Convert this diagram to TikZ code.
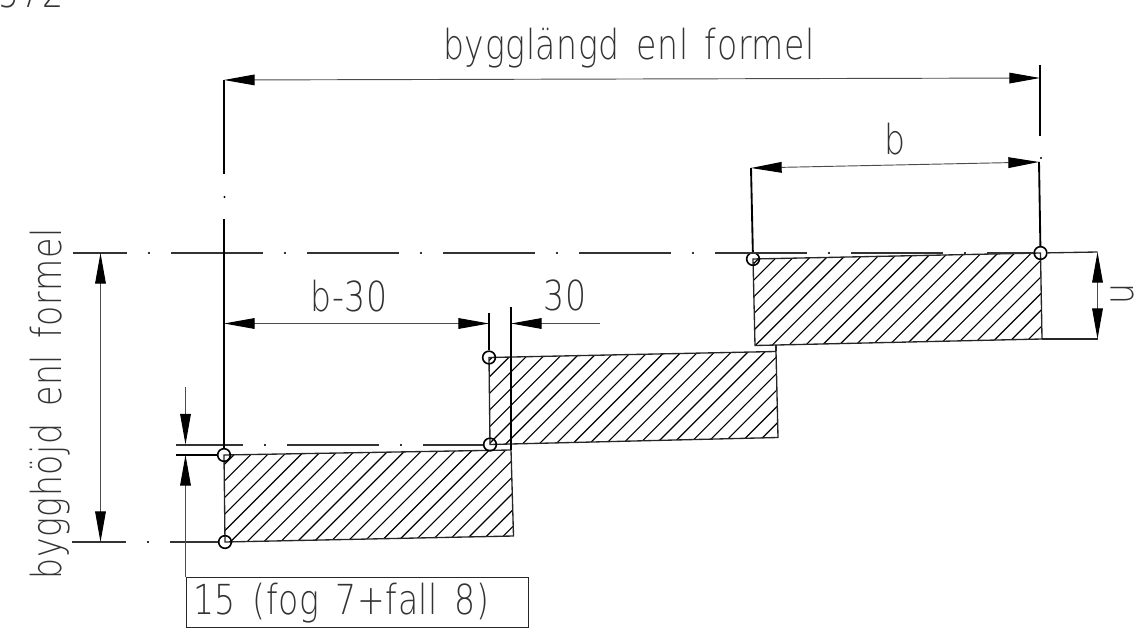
\documentclass[tikz,border=0pt]{standalone}
\usepackage{fontspec}
\newfontfamily\cadfont[FakeStretch=0.8,LetterSpace=1.5,WordSpace=1.5]{DejaVu Sans ExtraLight}
\usetikzlibrary{arrows.meta}

\tikzset{
  dimtip/.tip={Triangle[length=23pt,width=8pt,black]},
  dimline/.style={line width=0.7pt,black!70!white,arrows={dimtip-dimtip}},
  extline/.style={line width=1.4pt},
  edgeline/.style={line width=1pt,black!85!white},
  hatchline/.style={line width=0.85pt},
  centerline/.style={line width=1.5pt,black!80!white,dash pattern=on 69pt off 16pt on 1pt off 16pt},
  ring/.style={circle,draw,line width=1.2pt,inner sep=0pt,minimum size=9.5pt},
  cadtext/.style={font=\cadfont\fontsize{31}{31}\selectfont,text=black!80!white,inner sep=0pt}
}

\begin{document}
\begin{tikzpicture}[x=0.75pt,y=-0.75pt]
  \clip (0,0) rectangle (1134,630);
  % block corners
  \coordinate (lowTL) at (224,455);
  \coordinate (lowTR) at (511,450);
  \coordinate (lowBR) at (513.5,536);
  \coordinate (lowBL) at (225,542);
  \coordinate (midTL) at (489,357.5);
  \coordinate (midTR) at (776,351.5);
  \coordinate (midBR) at (778,437.5);
  \coordinate (midBL) at (490,444.5);
  \coordinate (topTL) at (753,259);
  \coordinate (topTR) at (1040.5,253);
  \coordinate (topBR) at (1042,339);
  \coordinate (topBL) at (755,345.5);
  % hatching
  \foreach \blk/\phase in {low/672,mid/849.5,top/1000.5}{
    \begin{scope}
      \clip (\blk TL) -- (\blk TR) -- (\blk BR) -- (\blk BL) -- cycle;
      \foreach \n in {0,...,24}
        \draw[hatchline] ({\phase+\n*16.7-700},700) -- ({\phase+\n*16.7-100},100);
    \end{scope}
    \draw[edgeline] (\blk TL) -- (\blk TR) -- (\blk BR) -- (\blk BL) -- cycle;
  }
  \draw[edgeline] (topBL -| midTR) -- (midTR);
  % reference points
  \node[ring] (ptA) at (lowTL) {};
  \node[ring] (ptB) at (lowBL) {};
  \node[ring] (ptC) at (midBL) {};
  \node[ring] (ptD) at (midTL) {};
  \node[ring] (ptE) at (topTL) {};
  \node[ring] (ptF) at (topTR) {};
  % center lines
  \coordinate (cTopL) at (73,253);
  \coordinate (cLowL) at (176,444.5);
  \coordinate (cBotL) at (72,542);
  \draw[centerline,dash phase=28.5pt] (cTopL) -- (ptF);
  \draw[centerline,dash phase=18.75pt] (cLowL) -- (ptC);
  \draw[centerline,dash phase=28.5pt] (cBotL) -- (ptB);
  \coordinate (gapL) at (176,455);
  \draw[extline] (gapL) -- (ptA);
  % extension lines
  \coordinate (extLa) at (224,80);
  \coordinate (extLb) at (224,174);
  \coordinate (extLc) at (224,219);
  \coordinate (dotL) at (224.5,197);
  \draw[extline] (extLa) -- (extLb);
  \draw[extline] (extLc) -- (ptA);
  \fill (dotL) circle (0.8pt);
  \coordinate (extRa) at (1040,65);
  \coordinate (extRb) at (1040,136);
  \coordinate (extRc) at (1039,162);
  \coordinate (dotR) at (1041,158);
  \draw[extline] (extRa) -- (extRb);
  \draw[extline] (extRc) -- (ptF);
  \fill (dotR) circle (0.8pt);
  \coordinate (extBb) at (751,168);
  \draw[extline] (extBb) -- (ptE);
  \coordinate (ext30a) at (489,313.5);
  \coordinate (ext30b) at (511,307);
  \draw[extline] (ext30a) -- (ptD);
  \draw[extline] (ext30b) -- (lowTR);
  % dimensions
  \coordinate (dimLa) at (224,80);
  \coordinate (dimLb) at (1040,78);
  \draw[dimline] (dimLa) -- (dimLb);
  \draw[dimline] (extBb) -- (extRc);
  \coordinate (dimHa) at (100.5,253);
  \coordinate (dimHb) at (100.5,542);
  \draw[dimline] (dimHa) -- (dimHb);
  \coordinate (dimUa) at (1097.5,252);
  \coordinate (dimUb) at (1097.5,339);
  \draw[dimline] (dimUa) -- (dimUb);
  \draw[edgeline] (ptF) -- (dimUa);
  \draw[edgeline] (topBR) -- (dimUb);
  \coordinate (dimBa) at (224,323.5);
  \coordinate (dimBb) at (489,323.5);
  \draw[dimline] (dimBa) -- (dimBb);
  \coordinate (dim30a) at (511,323.5);
  \coordinate (dim30b) at (600,323.5);
  \draw[dimline,arrows={dimtip-}] (dim30a) -- (dim30b);
  \coordinate (dimFa) at (185.5,444.5);
  \coordinate (dimFb) at (185.5,387);
  \draw[dimline,arrows={dimtip-}] (dimFa) -- (dimFb);
  \node[draw,edgeline,minimum width=256.5pt,minimum height=37.5pt,anchor=north west,inner sep=0pt] (fogbox) at (185.5,577) {};
  \coordinate (dimGa) at (185.5,455);
  \draw[dimline,arrows={dimtip-}] (dimGa) -- (fogbox.north west);
  % labels
  \node[cadtext] (lblLength) at (629,48) {bygglängd enl formel};
  \node[cadtext] (lblB) at (895,139) {b};
  \node[cadtext] (lblBm) at (349,296) {b-30};
  \node[cadtext] (lbl30) at (565,295) {30};
  \node[cadtext,rotate=90] (lblU) at (1122,294) {u};
  \node[cadtext,rotate=90] (lblHeight) at (50,404) {bygghöjd enl formel};
  \node[cadtext,anchor=west] (lblFog) at (193,603) {15 (fog 7+fall 8)};
  \node[cadtext] (lblSheet) at (31,-8) {572};
\end{tikzpicture}
\end{document}
